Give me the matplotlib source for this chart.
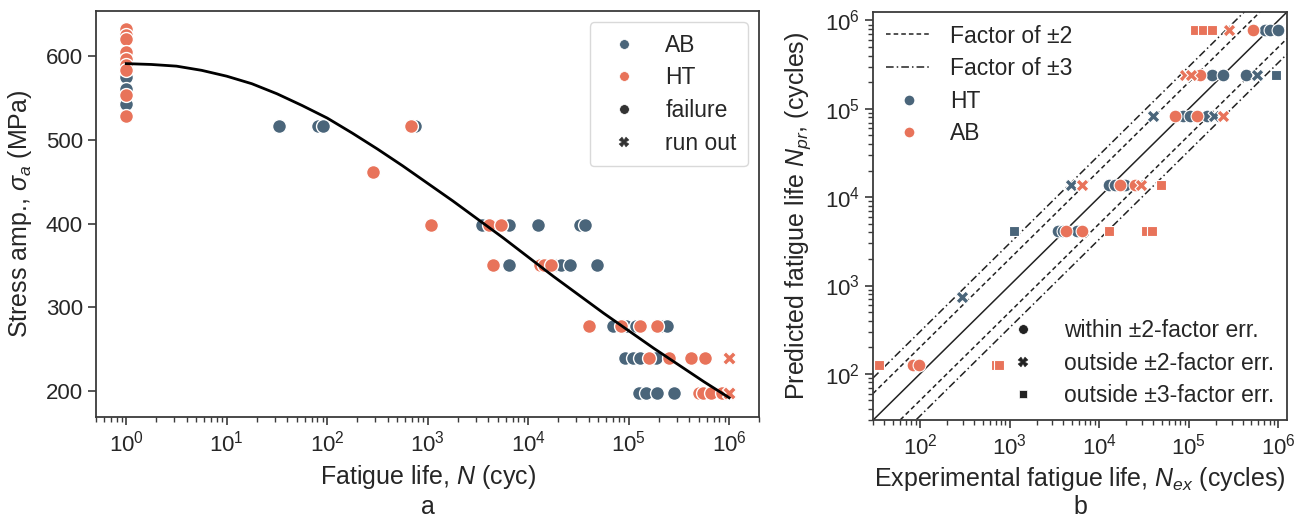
import numpy as np
import matplotlib.pyplot as plt
from matplotlib.lines import Line2D

plt.rcParams['font.family'] = ['Liberation Sans', 'DejaVu Sans']
plt.rcParams['mathtext.fontset'] = 'custom'
plt.rcParams['mathtext.rm'] = 'Liberation Sans'
plt.rcParams['mathtext.it'] = 'Liberation Sans:italic'
plt.rcParams['mathtext.bf'] = 'Liberation Sans:bold'
plt.rcParams['text.color'] = '#262626'
plt.rcParams['axes.labelcolor'] = '#262626'
plt.rcParams['xtick.color'] = '#262626'
plt.rcParams['ytick.color'] = '#262626'

BLUE = '#4a657a'
ORANGE = '#e8735a'
LABEL_FS = 18
TICK_FS = 16
LEG_FS = 16.5

# ---- panel a: S-N data ----
ab_N = [1, 1, 1, 1, 1,
        33, 81, 91, 740,
        3.5e3, 6.5e3, 1.26e4, 3.3e4, 3.7e4,
        6.4e3, 1.8e4, 2.1e4, 2.6e4, 4.8e4,
        6.9e4, 9.3e4, 1.17e5, 2.1e5, 2.4e5,
        9.2e4, 1.1e5, 1.3e5, 1.85e5,
        1.26e5, 1.5e5, 1.9e5, 2.8e5]
ab_S = [601, 593, 575, 561, 543,
        517, 517, 517, 517,
        398, 398, 398, 398, 398,
        350, 350, 350, 350, 350,
        278, 278, 278, 278, 278,
        239, 239, 239, 239,
        198, 198, 198, 198]

ht_N = [1, 1, 1, 1, 1, 1, 1, 1, 1,
        675, 284,
        1090, 4.1e3, 5.4e3,
        4.5e3, 1.3e4, 1.45e4, 1.7e4,
        4.0e4, 8.3e4, 1.3e5, 1.9e5,
        1.6e5, 2.5e5, 4.2e5, 5.8e5,
        5.0e5, 5.5e5, 6.6e5, 8.5e5]
ht_S = [632, 625, 620, 605, 596, 589, 583, 553, 528,
        517, 462,
        398, 398, 398,
        350, 350, 350, 350,
        278, 278, 278, 278,
        239, 239, 239, 239,
        198, 198, 198, 198]

runout_N = [1e6, 1e6]
runout_S = [239, 198]

fit_logN = [0, 0.25, 0.5, 0.75, 1.0, 1.25, 1.5, 1.75, 2.0, 2.25, 2.5, 2.75, 3.0,
            3.25, 3.5, 3.75, 4.0, 4.25, 4.5, 4.75, 5.0, 5.25, 5.5, 5.75, 6.0]
fit_S = [591, 590, 588, 583, 576, 567, 555, 541, 526, 508, 489, 469, 448,
         427, 405, 383, 360, 337, 315, 293, 272, 251, 231, 211, 192]

# ---- panel b: predicted vs experimental ----
ht_ex = [7.1e5, 8.1e5, 9.8e5,
         1.8e5, 2.4e5, 4.3e5, 5.8e5, 9.5e5,
         4.0e4, 8.7e4, 1.04e5, 1.6e5, 1.9e5,
         4.9e3, 1.3e4, 1.5e4, 1.95e4,
         1.12e3, 3.5e3, 3.9e3, 5.7e3,
         295]
ht_pr = [7.9e5, 7.9e5, 7.9e5,
         2.4e5, 2.4e5, 2.4e5, 2.4e5, 2.4e5,
         8.4e4, 8.4e4, 8.4e4, 8.4e4, 8.4e4,
         1.38e4, 1.38e4, 1.38e4, 1.38e4,
         4.1e3, 4.1e3, 4.1e3, 4.1e3,
         740]
ht_cat = ['o', 'o', 'o',
          'o', 'o', 'o', 'X', 's',
          'X', 'o', 'o', 'o', 'X',
          'X', 'o', 'o', 'o',
          's', 'o', 'o', 'o',
          'X']

ab_ex = [1.18e5, 1.44e5, 1.8e5, 2.8e5, 5.2e5,
         9.1e4, 1.05e5, 1.35e5,
         7.1e4, 1.24e5, 2.4e5,
         6.4e3, 1.7e4, 2.5e4, 2.9e4, 4.9e4,
         4.3e3, 6.4e3, 1.3e4, 3.3e4, 3.9e4,
         35, 83, 97, 705, 760]
ab_pr = [7.9e5, 7.9e5, 7.9e5, 7.9e5, 7.9e5,
         2.4e5, 2.4e5, 2.4e5,
         8.4e4, 8.4e4, 8.4e4,
         1.38e4, 1.38e4, 1.38e4, 1.38e4, 1.38e4,
         4.1e3, 4.1e3, 4.1e3, 4.1e3, 4.1e3,
         125, 125, 125, 125, 125]
ab_cat = ['s', 's', 's', 'X', 'o',
          'X', 'X', 'o',
          'o', 'o', 'X',
          'X', 'o', 'o', 'X', 's',
          'o', 'o', 's', 's', 's',
          's', 'o', 'o', 's', 's']

marker_size = {'o': 85, 'X': 85, 's': 45}


def style_axes(ax):
    for sp in ax.spines.values():
        sp.set_color('#3a3a3a')
        sp.set_linewidth(1.3)
    ax.tick_params(which='major', length=6, width=1.2, labelsize=TICK_FS, color='#3a3a3a')
    ax.tick_params(which='minor', length=3.5, width=1.0, color='#3a3a3a')


fig = plt.figure(figsize=(13.06, 5.18), dpi=100)
ax1 = fig.add_axes([0.0735, 0.195, 0.508, 0.784])
ax2 = fig.add_axes([0.6685, 0.189, 0.317, 0.788])

# panel a
ax1.scatter(ab_N, ab_S, s=100, c=BLUE, edgecolors='white', linewidths=1, zorder=3)
ax1.scatter(ht_N, ht_S, s=100, c=ORANGE, edgecolors='white', linewidths=1, zorder=3)
ax1.scatter(runout_N, runout_S, s=100, c=ORANGE, marker='X', edgecolors='white',
            linewidths=1, zorder=3)
ax1.plot(10.0 ** np.array(fit_logN), fit_S, color='black', lw=2, zorder=4)
ax1.set_xscale('log')
ax1.set_xticks([1e0, 1e1, 1e2, 1e3, 1e4, 1e5, 1e6])
ax1.set_xlim(0.5, 2e6)
ax1.set_ylim(169, 654)
ax1.set_yticks([200, 300, 400, 500, 600])
ax1.set_xlabel('Fatigue life, $N$ (cyc)', fontsize=LABEL_FS, labelpad=5)
ax1.set_ylabel('Stress amp., $\\sigma_a$ (MPa)', fontsize=LABEL_FS)
ax1.yaxis.set_label_coords(-0.094, 0.5)
style_axes(ax1)

h1 = [Line2D([], [], ls='', marker='o', ms=7, mfc=BLUE, mec='white', mew=0.5),
      Line2D([], [], ls='', marker='o', ms=7, mfc=ORANGE, mec='white', mew=0.5),
      Line2D([], [], ls='', marker='o', ms=7, mfc='#333333', mec='white', mew=0.5),
      Line2D([], [], ls='', marker='X', ms=7, mfc='#333333', mec='#333333', mew=0.3)]
leg = ax1.legend(h1, ['AB', 'HT', 'failure', 'run out'], loc='upper right',
                 fontsize=LEG_FS, frameon=True, fancybox=True, borderpad=0.5,
                 labelspacing=0.42)
leg.get_frame().set_edgecolor('#d0d0d0')
leg.get_frame().set_linewidth(1)

# panel b
lims = np.array([30, 1.25e6])
ax2.plot(lims, lims, color='#222222', lw=1.1, zorder=2)
for f in (2, 0.5):
    ax2.plot(lims, lims * f, color='#222222', lw=1.1, ls=(0, (3, 2)), zorder=2)
for f in (3, 1 / 3):
    ax2.plot(lims, lims * f, color='#222222', lw=1.1, ls=(0, (5, 2, 1, 2)), zorder=2)

for ex, pr, cat, col in ((ht_ex, ht_pr, ht_cat, BLUE), (ab_ex, ab_pr, ab_cat, ORANGE)):
    ex = np.array(ex)
    pr = np.array(pr)
    cat = np.array(cat)
    for m in ('o', 'X', 's'):
        sel = cat == m
        ax2.scatter(ex[sel], pr[sel], s=marker_size[m], marker=m, c=col,
                    edgecolors='white', linewidths=0.8, zorder=3)

ax2.set_xscale('log')
ax2.set_yscale('log')
ax2.set_xticks([1e2, 1e3, 1e4, 1e5, 1e6])
ax2.set_yticks([1e2, 1e3, 1e4, 1e5, 1e6])
ax2.set_xlim(*lims)
ax2.set_ylim(*lims)
ax2.set_xlabel('Experimental fatigue life, $N_{ex}$ (cycles)', fontsize=LABEL_FS, labelpad=4)
ax2.set_ylabel('Predicted fatigue life $N_{pr}$, (cycles)', fontsize=LABEL_FS)
ax2.yaxis.set_label_coords(-0.146, 0.5)
style_axes(ax2)

h2 = [Line2D([], [], color='#222222', lw=1.1, ls=(0, (3, 2))),
      Line2D([], [], color='#222222', lw=1.1, ls=(0, (5, 2, 1, 2))),
      Line2D([], [], ls='', marker='o', ms=8, mfc=BLUE, mec='white'),
      Line2D([], [], ls='', marker='o', ms=8, mfc=ORANGE, mec='white')]
leg2 = ax2.legend(h2, ['Factor of \u00b12', 'Factor of \u00b13', 'HT', 'AB'],
                  loc='upper left', fontsize=LEG_FS, frameon=False,
                  borderaxespad=0.15, labelspacing=0.42)
ax2.add_artist(leg2)

h3 = [Line2D([], [], ls='', marker='o', ms=7, mfc='#222222', mec='white', mew=0.5),
      Line2D([], [], ls='', marker='X', ms=7, mfc='#222222', mec='#222222', mew=0.3),
      Line2D([], [], ls='', marker='s', ms=6, mfc='#222222', mec='white', mew=0.5)]
ax2.legend(h3, ['within \u00b12-factor err.', 'outside \u00b12-factor err.',
                'outside \u00b13-factor err.'],
           loc='lower right', fontsize=LEG_FS, frameon=False, borderaxespad=0.15,
           labelspacing=0.42)

fig.text(0.328, 0.022, 'a', ha='center', va='center', fontsize=LABEL_FS)
fig.text(0.827, 0.022, 'b', ha='center', va='center', fontsize=LABEL_FS)

fig.savefig('out.png', dpi=100)
